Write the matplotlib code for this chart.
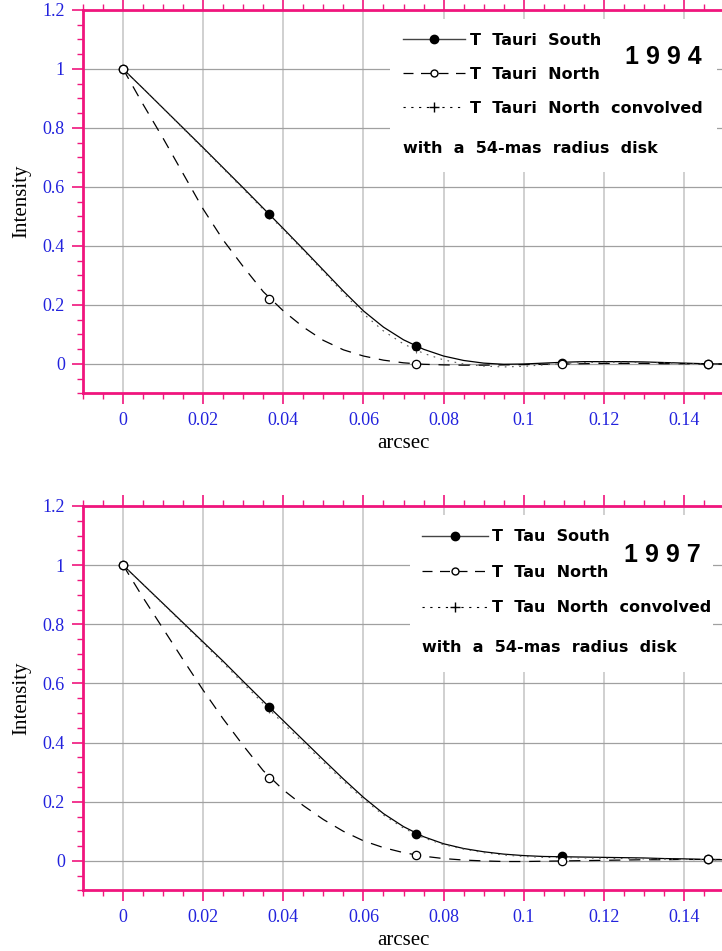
import matplotlib
matplotlib.use("Agg")
import matplotlib.pyplot as plt
from matplotlib.lines import Line2D
from matplotlib.patches import Rectangle
from matplotlib.ticker import MultipleLocator

# sample positions (arcsec) of the measured points
x_pts = [0.0, 0.0365, 0.073, 0.1095, 0.146]

# curve positions
x_curve = [0.0, 0.005, 0.01, 0.015, 0.02, 0.025, 0.03, 0.035, 0.04, 0.045,
           0.05, 0.055, 0.06, 0.065, 0.07, 0.075, 0.08, 0.085, 0.09, 0.095,
           0.1, 0.105, 0.11, 0.115, 0.12, 0.125, 0.13, 0.135, 0.14, 0.145, 0.15]

# 1994
south94_pts = [1.0, 0.51, 0.06, 0.005, 0.0]
north94_pts = [1.0, 0.22, 0.0, 0.0, 0.0]
conv94_pts = [1.0, 0.50, 0.048, 0.003, 0.0]
south94 = [1.0, 0.934, 0.867, 0.800, 0.733, 0.665, 0.597, 0.528, 0.459, 0.389,
           0.318, 0.247, 0.18, 0.125, 0.082, 0.05, 0.027, 0.012, 0.003, -0.001,
           0.0, 0.003, 0.006, 0.008, 0.008, 0.008, 0.007, 0.005, 0.003, 0.001, 0.0]
north94 = [1.0, 0.88, 0.765, 0.645, 0.525, 0.42, 0.33, 0.245, 0.18, 0.125,
           0.08, 0.048, 0.027, 0.013, 0.004, -0.001, -0.003, -0.004, -0.004, -0.003,
           -0.002, -0.001, 0.0, 0.001, 0.002, 0.002, 0.002, 0.001, 0.001, 0.0, 0.0]
conv94 = [1.0, 0.934, 0.866, 0.798, 0.730, 0.662, 0.593, 0.524, 0.455, 0.385,
          0.313, 0.24, 0.17, 0.112, 0.068, 0.036, 0.014, 0.0, -0.007, -0.01,
          -0.008, -0.003, 0.002, 0.005, 0.006, 0.006, 0.005, 0.004, 0.002, 0.0, 0.0]

# 1997
south97_pts = [1.0, 0.52, 0.09, 0.015, 0.005]
north97_pts = [1.0, 0.28, 0.02, 0.0, 0.005]
conv97_pts = [1.0, 0.51, 0.088, 0.011, 0.004]
south97 = [1.0, 0.935, 0.87, 0.805, 0.74, 0.675, 0.607, 0.54, 0.474, 0.408,
           0.342, 0.277, 0.215, 0.16, 0.116, 0.082, 0.058, 0.042, 0.031, 0.023,
           0.018, 0.015, 0.014, 0.013, 0.012, 0.011, 0.01, 0.008, 0.007, 0.005, 0.004]
north97 = [1.0, 0.89, 0.785, 0.68, 0.577, 0.48, 0.39, 0.305, 0.24, 0.187,
           0.14, 0.10, 0.068, 0.045, 0.028, 0.016, 0.008, 0.003, 0.0, -0.002,
           -0.002, -0.001, 0.0, 0.001, 0.002, 0.003, 0.004, 0.004, 0.005, 0.005, 0.005]
conv97 = [1.0, 0.934, 0.868, 0.802, 0.736, 0.669, 0.60, 0.532, 0.465, 0.399,
          0.334, 0.27, 0.209, 0.155, 0.111, 0.078, 0.055, 0.04, 0.028, 0.02,
          0.015, 0.012, 0.011, 0.01, 0.009, 0.008, 0.007, 0.006, 0.005, 0.004, 0.003]

GAP = "  "
labels94 = [GAP.join(["T", "Tauri", "South"]),
            GAP.join(["T", "Tauri", "North"]),
            GAP.join(["T", "Tauri", "North", "convolved"])]
labels97 = [GAP.join(["T", "Tau", "South"]),
            GAP.join(["T", "Tau", "North"]),
            GAP.join(["T", "Tau", "North", "convolved"])]
disk_text = GAP.join(["with", "a", "54-mas", "radius", "disk"])

PINK = "#f0157d"
BLUE = "#2222dd"
SERIF = "Liberation Serif"
SANS = "DejaVu Sans"

fig = plt.figure(figsize=(7.22, 9.51), dpi=100)


def setup_axes(ax):
    ax.set_xlim(-0.01, 0.15)
    ax.set_ylim(-0.1, 1.2)
    ax.xaxis.set_major_locator(MultipleLocator(0.02))
    ax.xaxis.set_minor_locator(MultipleLocator(0.005))
    ax.yaxis.set_major_locator(MultipleLocator(0.2))
    ax.yaxis.set_minor_locator(MultipleLocator(0.05))
    ax.xaxis.set_major_formatter(plt.FuncFormatter(lambda v, p: f"{v:g}"))
    ax.yaxis.set_major_formatter(plt.FuncFormatter(lambda v, p: f"{v:g}"))
    for side in ["left", "top", "bottom"]:
        ax.spines[side].set_color(PINK)
        ax.spines[side].set_linewidth(2)
    ax.spines["right"].set_visible(False)
    ax.tick_params(which="both", direction="out", color=PINK, top=True,
                   right=False, labelcolor=BLUE)
    ax.tick_params(which="major", length=8, width=1.2, labelsize=13, pad=5)
    ax.tick_params(which="minor", length=4, width=1.0)
    for lab in ax.get_xticklabels() + ax.get_yticklabels():
        lab.set_fontfamily(SERIF)
    ax.grid(True, which="major", axis="x", color="#c8c8c8", lw=1.2)
    ax.grid(True, which="major", axis="y", color="#a0a0a0", lw=0.9)
    ax.set_xlabel("arcsec", fontfamily=SERIF, fontsize=15)
    ax.set_ylabel("Intensity", fontfamily=SERIF, fontsize=15)
    ax.xaxis.set_label_coords(0.5, -0.105)
    ax.yaxis.set_label_coords(-0.08, 0.5)


def draw_panel(ax, south, north, conv, s_pts, n_pts, c_pts, labels, year,
               box, leg_anchor, hlen, lspace, disk_pos, year_pos):
    setup_axes(ax)
    ax.plot(x_curve, south, color="black", lw=0.9, zorder=3)
    ax.plot(x_curve, north, color="black", lw=0.9, dashes=(9, 7), zorder=3)
    ax.plot(x_curve, conv, color="#555555", lw=0.8, dashes=(1.5, 5), zorder=3)
    ax.plot(x_pts, s_pts, "o", color="black", ms=6, zorder=5)
    ax.plot(x_pts, n_pts, "o", mfc="white", mec="black", mew=0.9, ms=6, zorder=5)
    ax.plot(x_pts, c_pts, "+", color="#666666", ms=5, mew=0.8, zorder=4)

    ax.add_patch(Rectangle((box[0], box[1]), box[2], box[3], transform=ax.transAxes,
                           facecolor="white", edgecolor="none", zorder=1.8))
    handles = [
        Line2D([], [], color="#444444", lw=1.0, marker="o", ms=6,
               mfc="black", mec="black"),
        Line2D([], [], color="black", lw=0.9, dashes=(8, 6), marker="o",
               mfc="white", mec="black", ms=5),
        Line2D([], [], color="black", lw=0.8, dashes=(2, 5), marker="+", ms=7),
    ]
    leg = ax.legend(handles, labels, loc="upper left", bbox_to_anchor=leg_anchor,
                    borderaxespad=0, borderpad=0, frameon=False, numpoints=1,
                    handlelength=hlen, handletextpad=0.3, labelspacing=lspace,
                    prop={"family": SANS, "weight": "bold", "size": 11.5})
    leg.set_zorder(6)
    ax.text(disk_pos[0], disk_pos[1], disk_text, transform=ax.transAxes,
            family=SANS, weight="bold", size=11.5, va="center", ha="left", zorder=6)
    ax.text(year_pos[0], year_pos[1], year, transform=ax.transAxes,
            family="Liberation Sans", weight="bold", size=18, va="center",
            ha="center", zorder=6)


ax1 = fig.add_axes([0.11496, 0.58623, 0.88781, 0.40326])
draw_panel(ax1, south94, north94, conv94, south94_pts, north94_pts, conv94_pts,
           labels94, "1 9 9 4",
           box=(0.479, 0.5776, 0.510, 0.399), leg_anchor=(0.4992, 0.9413),
           hlen=3.9, lspace=1.2,
           disk_pos=(0.4992, 0.640), year_pos=(0.9048, 0.8775))

ax2 = fig.add_axes([0.11496, 0.06362, 0.88781, 0.40431])
draw_panel(ax2, south97, north97, conv97, south97_pts, north97_pts, conv97_pts,
           labels97, "1 9 9 7",
           box=(0.5101, 0.5683, 0.4727, 0.4083), leg_anchor=(0.5289, 0.939),
           hlen=4.1, lspace=1.28,
           disk_pos=(0.5289, 0.6307), year_pos=(0.9033, 0.873))

fig.savefig("out.png", dpi=100)
